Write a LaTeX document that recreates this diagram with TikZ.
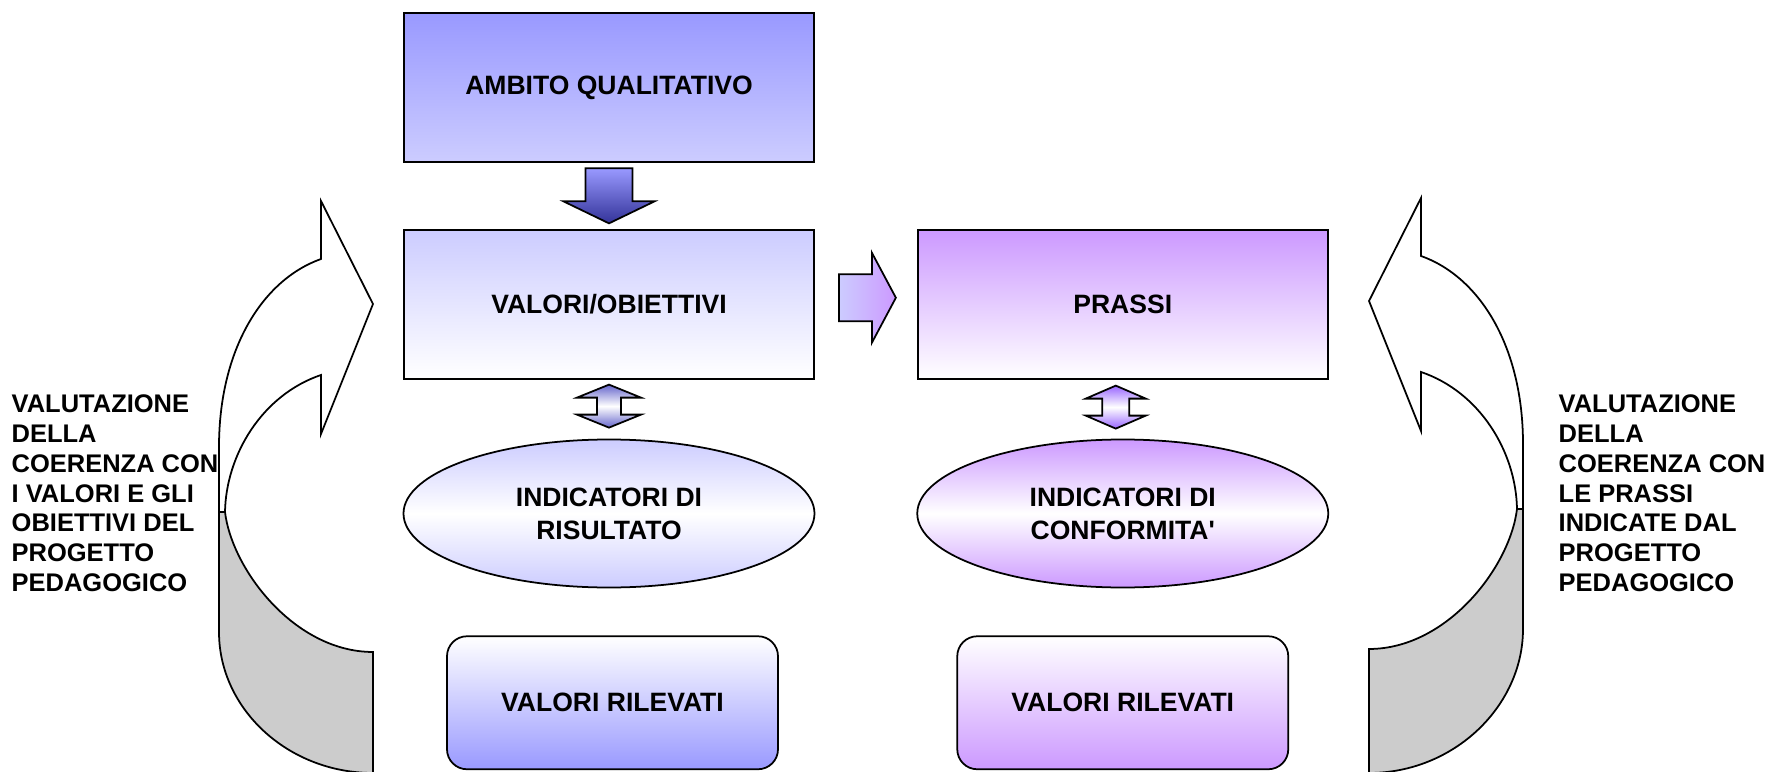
\documentclass[tikz,border=0pt]{standalone}
\usepackage{fontspec}
\setmainfont{Liberation Sans}
\usepackage{xcolor}
\usetikzlibrary{shapes.geometric, positioning, calc}
\definecolor{lilacblue}{RGB}{153,153,255}
\definecolor{paleblue}{RGB}{204,204,255}
\definecolor{lilac}{RGB}{204,153,255}
\definecolor{deepblue}{RGB}{51,51,153}
\definecolor{midblue}{RGB}{102,102,204}
\definecolor{midlilac}{RGB}{153,102,255}
\definecolor{backgray}{RGB}{204,204,204}
\newcommand{\diagfont}{\fontsize{7.55}{9.4}\selectfont\bfseries}
\newcommand{\sidefont}{\fontsize{7.25}{8.5}\selectfont\bfseries}
\tikzset{
  box/.style={rectangle, draw=black, line width=0.5pt, minimum width=4.1cm, minimum height=1.49cm, text centered, font=\diagfont},
  oval/.style={ellipse, draw=black, line width=0.5pt, minimum width=4.11cm, minimum height=1.48cm, align=center, inner sep=0pt, font=\diagfont},
  measure/.style={rectangle, rounded corners=0.2cm, draw=black, line width=0.5pt, minimum width=3.31cm, minimum height=1.33cm, text centered, font=\diagfont},
  blockarrow/.style={draw=black, line width=0.5pt, line join=miter},
  curvedband/.style={draw=black, line width=0.5pt},
  sidetext/.style={align=left, inner sep=0pt, font=\sidefont}
}

\begin{document}
\begin{tikzpicture}
\useasboundingbox (0,0) rectangle (17.69,-7.72);
\node[box, top color=lilacblue, bottom color=paleblue] (ambito) at (6.09,-0.875) {AMBITO QUALITATIVO};
\node[box, below=0.66cm of ambito, top color=paleblue, bottom color=white] (valori) {VALORI/OBIETTIVI};
\node[box, right=1.02cm of valori, top color=lilac, bottom color=white] (prassi) {PRASSI};
\node[oval, below=0.59cm of valori, top color=paleblue, bottom color=paleblue, middle color=white] (risultato) {INDICATORI DI\\RISULTATO};
\node[oval, below=0.59cm of prassi, top color=lilac, bottom color=lilac, middle color=white] (conformita) {INDICATORI DI\\CONFORMITA\textquotesingle};
\node[measure, below=0.47cm of risultato, xshift=0.035cm, top color=white, bottom color=lilacblue] (rilevatiL) {VALORI RILEVATI};
\node[measure, below=0.47cm of conformita, top color=white, bottom color=lilac] (rilevatiR) {VALORI RILEVATI};

% block arrows between the boxes
\coordinate (downmid) at ($(ambito.south)!0.5!(valori.north)$);
\coordinate (rightmid) at ($(valori.east)!0.5!(prassi.west)+(0.015,0.065)$);
\coordinate (leftmid) at ($(valori.south)!0.5!(risultato.north)+(0,0.03)$);
\coordinate (prassimid) at ($(prassi.south)!0.5!(conformita.north)+(-0.07,0.02)$);
\shadedraw[blockarrow, top color=lilacblue, bottom color=deepblue] ($(downmid)+(-0.235,0.275)$) -- ++(0.47,0) -- ++(0,-0.33) -- ++(0.22,0) -- ++(-0.455,-0.22) -- ++(-0.455,0.22) -- ++(0.22,0) -- cycle;
\shadedraw[blockarrow, left color=paleblue, right color=lilac] ($(rightmid)+(-0.285,0.235)$) -- ++(0.33,0) -- ++(0,0.215) -- ++(0.24,-0.45) -- ++(-0.24,-0.45) -- ++(0,0.215) -- ++(-0.33,0) -- cycle;
\shadedraw[blockarrow, top color=midblue, bottom color=midblue, middle color=white] ($(leftmid)+(0,0.215)$) -- ++(0.32,-0.13) -- ++(-0.2,0) -- ++(0,-0.17) -- ++(0.2,0) -- ++(-0.32,-0.13) -- ++(-0.32,0.13) -- ++(0.2,0) -- ++(0,0.17) -- ++(-0.2,0) -- cycle;
\shadedraw[blockarrow, top color=midlilac, bottom color=midlilac, middle color=white] ($(prassimid)+(0,0.215)$) -- ++(0.30,-0.13) -- ++(-0.165,0) -- ++(0,-0.17) -- ++(0.165,0) -- ++(-0.30,-0.13) -- ++(-0.30,0.13) -- ++(0.165,0) -- ++(0,0.17) -- ++(-0.165,0) -- cycle;

% curved arrows
\filldraw[curvedband, fill=backgray] (2.25,-5.12) .. controls (2.32,-5.70) and (2.95,-6.52) .. (3.73,-6.52) -- (3.73,-7.73) .. controls (2.88,-7.73) and (2.19,-7.09) .. (2.19,-6.32) -- (2.19,-5.12) -- cycle;
\filldraw[curvedband, fill=white] (2.19,-5.12) -- (2.19,-4.47) .. controls (2.19,-3.50) and (2.62,-2.80) .. (3.21,-2.59) -- (3.21,-2.01) -- (3.73,-3.04) -- (3.21,-4.34) -- (3.21,-3.75) .. controls (2.62,-3.95) and (2.26,-4.55) .. (2.25,-5.12) -- cycle;
\begin{scope}[xshift=17.42cm, yshift=0.03cm, xscale=-1]
\filldraw[curvedband, fill=backgray] (2.25,-5.12) .. controls (2.32,-5.70) and (2.95,-6.52) .. (3.73,-6.52) -- (3.73,-7.76) .. controls (2.88,-7.76) and (2.19,-7.09) .. (2.19,-6.32) -- (2.19,-5.12) -- cycle;
\filldraw[curvedband, fill=white] (2.19,-5.12) -- (2.19,-4.47) .. controls (2.19,-3.50) and (2.62,-2.80) .. (3.21,-2.59) -- (3.21,-2.01) -- (3.73,-3.04) -- (3.21,-4.34) -- (3.21,-3.75) .. controls (2.62,-3.95) and (2.26,-4.55) .. (2.25,-5.12) -- cycle;
\end{scope}

\node[sidetext, anchor=north west] (coerenzaL) at (0.11,-3.94) {VALUTAZIONE\\DELLA\\COERENZA CON\\I VALORI E GLI\\OBIETTIVI DEL\\PROGETTO\\PEDAGOGICO};
\node[sidetext, anchor=north west] (coerenzaR) at (15.58,-3.94) {VALUTAZIONE\\DELLA\\COERENZA CON\\LE PRASSI\\INDICATE DAL\\PROGETTO\\PEDAGOGICO};
\end{tikzpicture}
\end{document}
